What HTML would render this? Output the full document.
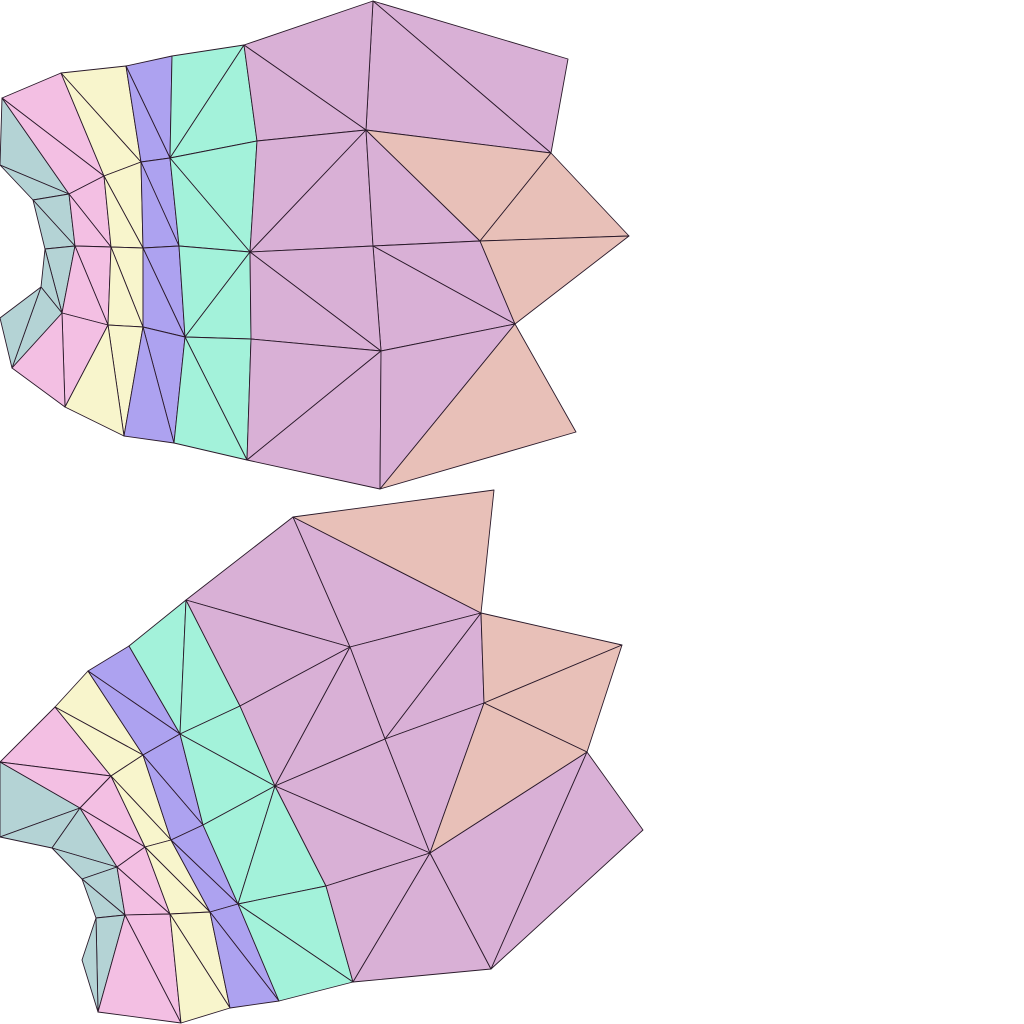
<!DOCTYPE html>
<html><head><meta charset="utf-8"><style>html,body{margin:0;padding:0;background:#fff;width:1024px;height:1024px;overflow:hidden}svg{display:block}</style></head>
<body>
<svg id="mesh" width="1024" height="1024" viewBox="0 0 1024 1024" xmlns="http://www.w3.org/2000/svg"></svg>
<script>
const colors = {teal:"#b4d3d5",pink:"#f3bfe3",yellow:"#f8f5cc",blue:"#ada2f0",green:"#a3f2da",mauve:"#d9b0d6",salmon:"#e8c0b8"};
const topVerts = {
A0:[2,98],A1:[0,165],A2:[69,194],A3:[33,200],A4:[75,246],A5:[45,249],A6:[41,287],A7:[62,313],A8:[0,318],A9:[12,368],
P0:[61,73],P1:[104,176],P2:[111,247],P3:[108,325],P4:[65,407],
Y0:[126,66],Y1:[141,162],Y2:[143,248],Y3:[143,327],Y4:[124,436],
B0:[172,56],B1:[170,158],B2:[179,246],B3:[185,337],B4:[174,443],
G0:[244,45],G1:[257,141],G2:[250,252],G3:[251,339],G4:[247,460],
M0:[373,1],M1:[366,130],M2:[373,246],M3:[381,351],M4:[380,489],M5:[568,59],M6:[551,153],M7:[480,241],M8:[515,324],
S0:[629,236],S1:[576,432]};
const topTris = [
["teal","A0","A1","A2"],["teal","A1","A3","A2"],["teal","A3","A4","A2"],["teal","A3","A5","A4"],["teal","A5","A7","A4"],["teal","A5","A6","A7"],["teal","A6","A9","A7"],["teal","A8","A9","A6"],
["pink","A0","P0","P1"],["pink","A0","P1","A2"],["pink","A2","P1","P2"],["pink","A2","P2","A4"],["pink","A4","P2","P3"],["pink","A4","P3","A7"],["pink","A7","P3","P4"],["pink","A7","P4","A9"],
["yellow","P0","Y0","Y1"],["yellow","P0","Y1","P1"],["yellow","P1","Y1","Y2"],["yellow","P1","Y2","P2"],["yellow","P2","Y2","Y3"],["yellow","P2","Y3","P3"],["yellow","P3","Y3","Y4"],["yellow","P3","Y4","P4"],
["blue","Y0","B0","B1"],["blue","Y0","B1","Y1"],["blue","Y1","B1","B2"],["blue","Y1","B2","Y2"],["blue","Y2","B2","B3"],["blue","Y2","B3","Y3"],["blue","Y3","B3","B4"],["blue","Y3","B4","Y4"],
["green","B0","G0","B1"],["green","B1","G0","G1"],["green","B1","G1","G2"],["green","B1","G2","B2"],["green","B2","G2","B3"],["green","B3","G2","G3"],["green","B3","G3","G4"],["green","B3","G4","B4"],
["mauve","M0","M5","M6"],["mauve","M0","M6","M1"],["mauve","G0","M0","M1"],["mauve","G0","M1","G1"],["mauve","G1","M1","G2"],["mauve","G2","M1","M2"],["mauve","M1","M7","M2"],["mauve","M2","M7","M8"],["mauve","M2","M8","M3"],["mauve","G2","M2","M3"],["mauve","G2","M3","G3"],["mauve","G3","M3","G4"],["mauve","G4","M3","M4"],["mauve","M3","M8","M4"],
["salmon","M1","M6","M7"],["salmon","M6","S0","M7"],["salmon","M7","S0","M8"],["salmon","M8","S1","M4"]];
const botVerts = {
T0:[0,762],T1:[0,837],T2:[52,848],T3:[80,808],T4:[117,867],T5:[82,879],T6:[125,915],T7:[96,918],T8:[82,960],T9:[98,1012],
Q0:[55,707],Q1:[111,776],Q2:[145,847],Q3:[170,914],Q4:[181,1023],
Z0:[88,671],Z1:[143,755],Z2:[171,840],Z3:[210,912],Z4:[230,1008],
C0:[129,646],C1:[180,734],C2:[203,825],C3:[238,904],C4:[279,1001],
H0:[186,600],H1:[240,706],H2:[275,786],H3:[326,886],H4:[353,982],
N0:[293,517],N1:[494,490],N2:[350,647],N3:[481,613],N4:[385,739],N5:[484,703],N6:[430,853],N7:[622,645],N8:[587,752],N9:[643,830],N10:[491,969]};
const botTris = [
["teal","T0","T1","T3"],["teal","T1","T2","T3"],["teal","T2","T4","T3"],["teal","T2","T5","T4"],["teal","T5","T6","T4"],["teal","T5","T7","T6"],["teal","T7","T9","T6"],["teal","T7","T8","T9"],
["pink","T0","Q0","Q1"],["pink","T0","Q1","T3"],["pink","T3","Q1","Q2"],["pink","T3","Q2","T4"],["pink","T4","Q2","Q3"],["pink","T4","Q3","T6"],["pink","T6","Q3","Q4"],["pink","T6","Q4","T9"],
["yellow","Q0","Z0","Z1"],["yellow","Q0","Z1","Q1"],["yellow","Q1","Z1","Z2"],["yellow","Q1","Z2","Q2"],["yellow","Q2","Z2","Z3"],["yellow","Q2","Z3","Q3"],["yellow","Q3","Z3","Z4"],["yellow","Q3","Z4","Q4"],
["blue","Z0","C0","C1"],["blue","Z0","C1","Z1"],["blue","Z1","C1","C2"],["blue","Z1","C2","Z2"],["blue","Z2","C2","C3"],["blue","Z2","C3","Z3"],["blue","Z3","C3","C4"],["blue","Z3","C4","Z4"],
["green","C0","H0","C1"],["green","C1","H0","H1"],["green","C1","H1","H2"],["green","C1","H2","C2"],["green","C2","H2","C3"],["green","C3","H2","H3"],["green","C3","H3","H4"],["green","C3","H4","C4"],
["mauve","H0","N0","N2"],["mauve","N0","N3","N2"],["mauve","H0","N2","H1"],["mauve","H1","N2","H2"],["mauve","N2","N3","N4"],["mauve","N2","N4","H2"],["mauve","N3","N5","N4"],["mauve","H2","N4","N6"],["mauve","N4","N5","N6"],["mauve","H2","N6","H3"],["mauve","H3","N6","H4"],["mauve","H4","N6","N10"],["mauve","N6","N8","N10"],["mauve","N8","N9","N10"],
["salmon","N0","N1","N3"],["salmon","N3","N7","N5"],["salmon","N5","N7","N8"],["salmon","N5","N8","N6"]];
const svg = document.getElementById('mesh');
const NS = "http://www.w3.org/2000/svg";
function draw(verts, tris, label){
  const g = document.createElementNS(NS,'g');
  
  
  tris.forEach((t,i)=>{
    const p = document.createElementNS(NS,'polygon');
    p.setAttribute('points', t.slice(1).map(k=>verts[k].join(',')).join(' '));
    p.setAttribute('fill', colors[t[0]]);
    p.setAttribute('stroke', '#2a1a2a');
    p.setAttribute('stroke-width', '0.9');
    p.setAttribute('stroke-linejoin', 'round');
    
    
    g.appendChild(p);
  });
  svg.appendChild(g);
}
draw(topVerts, topTris, 'top-mesh');
draw(botVerts, botTris, 'bottom-mesh');
</script>
</body></html>
